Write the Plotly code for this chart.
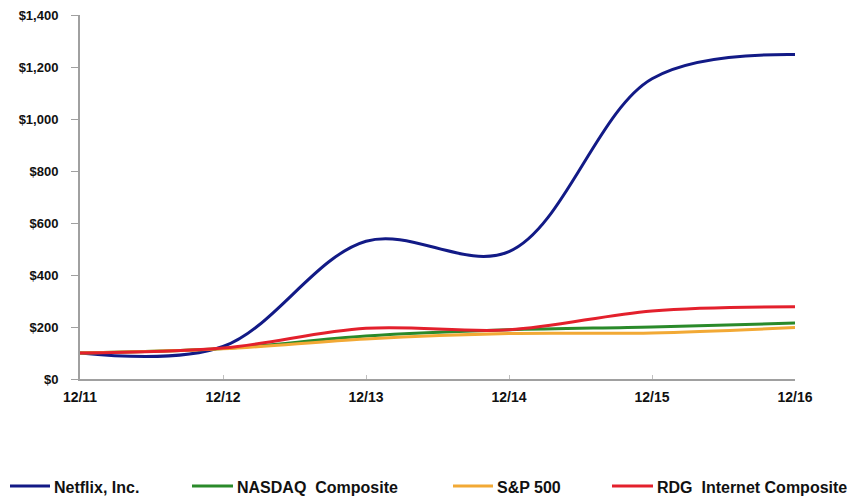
import plotly.graph_objects as go

categories = ["12/11", "12/12", "12/13", "12/14", "12/15", "12/16"]
netflix = [100, 125, 530, 490, 1155, 1248]
nasdaq = [100, 117, 165, 189, 200, 215]
sp500 = [100, 116, 154, 175, 177, 198]
rdg = [100, 119, 195, 189, 262, 278]
y_ticks = [0, 200, 400, 600, 800, 1000, 1200, 1400]
y_tick_labels = ["$0", "$200", "$400", "$600", "$800", "$1,000", "$1,200", "$1,400"]

series_names = ["Netflix, Inc.", "NASDAQ  Composite", "S&P 500", "RDG  Internet Composite"]
series_values = [netflix, nasdaq, sp500, rdg]
series_colors = ["#121a86", "#2a8a2a", "#f2a935", "#e3202c"]

FONT = "Liberation Sans, Arial, sans-serif"

# page body has an 8px offset; margins compensate
ML, MR, MT, MB = 72, 68, 7, 126
W, H = 855, 497
plot_w = W - ML - MR
plot_h = H - MT - MB


def px_to_paper_x(sx):
    return (sx - 8 - ML) / plot_w


def px_to_paper_y(sy):
    return ((H - MB) - (sy - 8)) / plot_h


fig = go.Figure()
for name, vals, color in zip(series_names, series_values, series_colors):
    fig.add_trace(go.Scatter(
        x=list(range(len(categories))), y=vals, name=name, mode="lines",
        line=dict(color=color, width=3, shape="spline", smoothing=1.0),
        showlegend=False,
    ))

# legend drawn as swatch lines + text (screen pixel layout of the legend row)
legend_swatch = [(10, 50), (192, 233), (453, 493), (612, 653)]
legend_text_x = [52, 235, 495, 655]
legend_line_y = 486
legend_text_y = 487
shapes = []
annotations = []
for (x0, x1), tx, name, color in zip(legend_swatch, legend_text_x, series_names, series_colors):
    shapes.append(dict(type="line", xref="paper", yref="paper",
                       x0=px_to_paper_x(x0), x1=px_to_paper_x(x1),
                       y0=px_to_paper_y(legend_line_y), y1=px_to_paper_y(legend_line_y),
                       line=dict(color=color, width=3)))
    annotations.append(dict(xref="paper", yref="paper", x=px_to_paper_x(tx),
                            y=px_to_paper_y(legend_text_y), xanchor="left", yanchor="middle",
                            text=name, showarrow=False,
                            font=dict(family=FONT, size=16, color="#111111", weight="bold")))

fig.update_layout(
    width=W, height=H,
    margin=dict(l=ML, r=MR, t=MT, b=MB, autoexpand=False),
    plot_bgcolor="white", paper_bgcolor="white",
    showlegend=False,
    shapes=shapes, annotations=annotations,
    xaxis=dict(
        range=[0, 5], tickmode="array", tickvals=list(range(len(categories))),
        ticktext=categories, automargin=False,
        showgrid=False, zeroline=False, showline=True, linecolor="#a0a0a0", linewidth=2,
        ticks="inside", ticklen=4, tickcolor="#c0c0c0", ticklabelstandoff=4,
        tickfont=dict(family=FONT, size=14, color="#111111", weight="bold"),
    ),
    yaxis=dict(
        range=[0, 1400], tickmode="array", tickvals=y_ticks,
        ticktext=y_tick_labels, automargin=False, ticklabeloverflow="allow",
        showgrid=False, zeroline=False, showline=True, linecolor="#a0a0a0", linewidth=2,
        ticks="outside", ticklen=7, tickcolor="#a0a0a0", ticklabelstandoff=10,
        tickfont=dict(family=FONT, size=13, color="#111111", weight="bold"),
    ),
)
fig.write_html("out.html")
